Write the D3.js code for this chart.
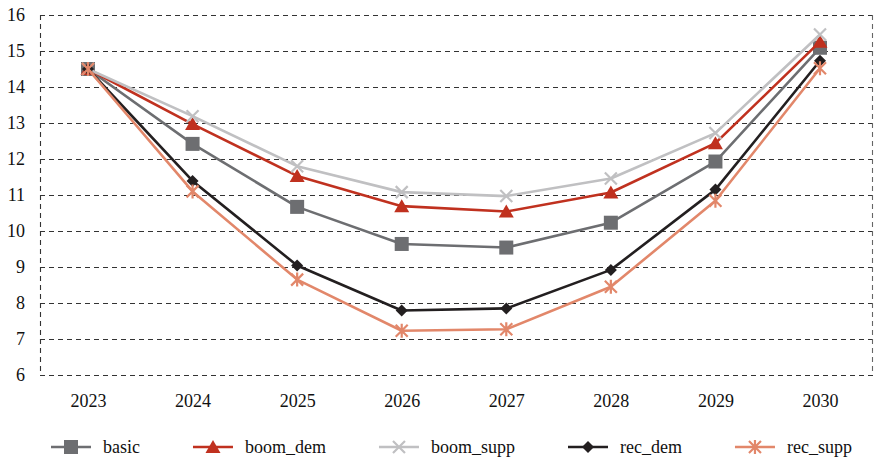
<!DOCTYPE html>
<html>
<head>
<meta charset="utf-8">
<script src="https://cdn.jsdelivr.net/npm/d3@7"></script>
<style>
  html, body { margin: 0; padding: 0; background: #fff; }
  svg text { font-family: "Liberation Serif", "Tinos", "Times New Roman", "DejaVu Serif", serif !important; }
</style>
</head>
<body>
<svg id="chart" width="876" height="460"></svg>
<script>
// Years on the horizontal axis
const years = ["2023", "2024", "2025", "2026", "2027", "2028", "2029", "2030"];
// Scenario values
const basic     = [14.5, 12.42, 10.67, 9.64, 9.54, 10.23, 11.93, 15.09];
const boomDem   = [14.5, 12.97, 11.53, 10.69, 10.54, 11.07, 12.44, 15.26];
const boomSupp  = [14.5, 13.19, 11.8, 11.08, 10.97, 11.46, 12.72, 15.46];
const recDem    = [14.5, 11.39, 9.04, 7.79, 7.85, 8.92, 11.15, 14.73];
const recSupp   = [14.5, 11.1, 8.65, 7.23, 7.27, 8.45, 10.84, 14.52];
const yTicks    = [6, 7, 8, 9, 10, 11, 12, 13, 14, 15, 16];

const series = [
  { name: "basic",     values: basic,    color: "#6d6e71", marker: "square" },
  { name: "boom_dem",  values: boomDem,  color: "#c0311f", marker: "triangle" },
  { name: "boom_supp", values: boomSupp, color: "#c0c0c2", marker: "cross" },
  { name: "rec_dem",   values: recDem,   color: "#231f20", marker: "diamond" },
  { name: "rec_supp",  values: recSupp,  color: "#e2876a", marker: "star" }
];

const svg = d3.select("#chart");
const plot = { left: 40, right: 873, top: 15, bottom: 375 };

const x = d3.scalePoint().domain(years).range([88, 820]);
const y = d3.scaleLinear().domain([6, 16]).range([plot.bottom, plot.top]);

// Horizontal dashed gridlines
svg.append("g").selectAll("line").data(yTicks).join("line")
  .attr("x1", plot.left).attr("x2", plot.right)
  .attr("y1", d => y(d) + 0.5).attr("y2", d => y(d) + 0.5)
  .attr("stroke", "#333").attr("stroke-width", 1.1)
  .attr("stroke-dasharray", "5,4");

// Dashed vertical borders
svg.append("line").attr("x1", plot.left + 0.5).attr("x2", plot.left + 0.5)
  .attr("y1", plot.top).attr("y2", plot.bottom)
  .attr("stroke", "#333").attr("stroke-width", 1.1).attr("stroke-dasharray", "5,4");
svg.append("line").attr("x1", plot.right - 0.5).attr("x2", plot.right - 0.5)
  .attr("y1", plot.top).attr("y2", plot.bottom)
  .attr("stroke", "#666").attr("stroke-width", 1.1).attr("stroke-dasharray", "5,4");

// Y axis labels
const yAxis = d3.axisLeft(y).tickValues(yTicks).tickSize(0).tickPadding(0);
const gy = svg.append("g").attr("transform", `translate(${plot.left - 15},0)`).call(yAxis);
gy.attr("font-family", null).attr("font-size", null);
gy.select(".domain").remove();
gy.selectAll("text").attr("font-size", 18).attr("fill", "#111");

// X axis labels
const xAxis = d3.axisBottom(x).tickSize(0).tickPadding(0);
const gx = svg.append("g").attr("transform", `translate(0,${plot.bottom + 19})`).call(xAxis);
gx.attr("font-family", null).attr("font-size", null);
gx.select(".domain").remove();
gx.selectAll("text").attr("font-size", 18).attr("fill", "#111");

// Marker shapes
function drawMarker(g, type, color) {
  if (type === "square") {
    g.append("rect").attr("x", -7).attr("y", -7).attr("width", 14).attr("height", 14).attr("fill", color);
  } else if (type === "triangle") {
    g.append("path").attr("d", "M0,-7 L7.5,6 L-7.5,6 Z").attr("fill", color);
  } else if (type === "diamond") {
    g.append("path").attr("d", "M0,-6 L6,0 L0,6 L-6,0 Z").attr("fill", color);
  } else if (type === "cross") {
    g.append("path").attr("d", "M-6,-6 L6,6 M-6,6 L6,-6")
      .attr("stroke", color).attr("stroke-width", 2.2).attr("fill", "none");
  } else if (type === "star") {
    g.append("path").attr("d", "M-6,-6 L6,6 M-6,6 L6,-6 M0,-7 L0,7")
      .attr("stroke", color).attr("stroke-width", 2.2).attr("fill", "none");
  }
}

const line = d3.line().x((d, i) => x(years[i])).y(d => y(d));

const seriesG = svg.append("g").selectAll("g").data(series).join("g");
seriesG.append("path")
  .attr("d", d => line(d.values))
  .attr("fill", "none")
  .attr("stroke", d => d.color)
  .attr("stroke-width", 2.6)
  .attr("stroke-linejoin", "round");

seriesG.each(function (s) {
  const g = d3.select(this);
  s.values.forEach((v, i) => {
    const m = g.append("g").attr("transform", `translate(${x(years[i])},${y(v)})`);
    drawMarker(m, s.marker, s.color);
  });
});

// Legend
const legend = svg.append("g").attr("transform", "translate(51,447)");
let lx = 0;
series.forEach(s => {
  const item = legend.append("g").attr("transform", `translate(${lx},0)`);
  item.append("line").attr("x1", 0).attr("x2", 40).attr("y1", 0).attr("y2", 0)
    .attr("stroke", s.color).attr("stroke-width", 2.6);
  const m = item.append("g").attr("transform", "translate(20,0)");
  drawMarker(m, s.marker, s.color);
  const t = item.append("text").attr("x", 52).attr("y", 6)
    .attr("font-size", 18).attr("fill", "#111").text(s.name);
  lx += 52 + t.node().getComputedTextLength() + 53;
});
</script>
</body>
</html>
